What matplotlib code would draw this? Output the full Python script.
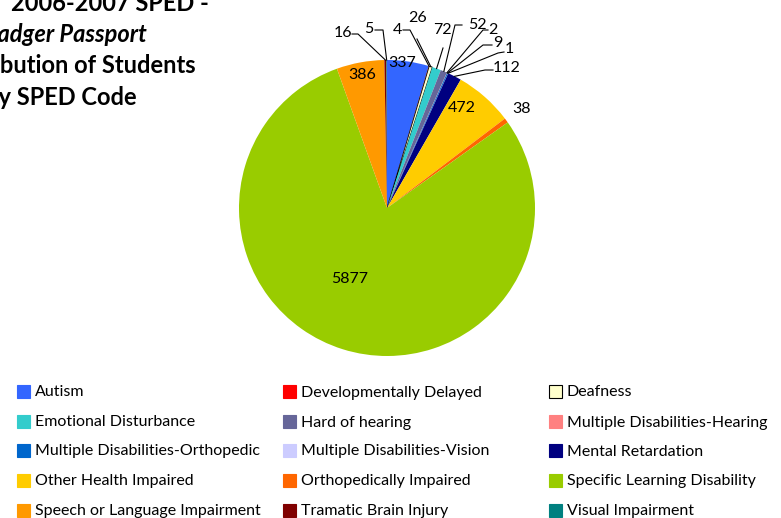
import matplotlib
matplotlib.use("Agg")
import matplotlib.pyplot as plt
from matplotlib.patches import Rectangle
import numpy as np

plt.rcParams['font.family'] = ['Lato', 'DejaVu Sans']

# SPED code counts, in legend order
categories = [
    "Autism", "Developmentally Delayed", "Deafness",
    "Emotional Disturbance", "Hard of hearing", "Multiple Disabilities-Hearing",
    "Multiple Disabilities-Orthopedic", "Multiple Disabilities-Vision", "Mental Retardation",
    "Other Health Impaired", "Orthopedically Impaired", "Specific Learning Disability",
    "Speech or Language Impairment", "Tramatic Brain Injury", "Visual Impairment",
]
counts = [337, 4, 26, 72, 52, 2, 9, 1, 112, 472, 38, 5877, 386, 16, 5]
colors = [
    "#3366FF", "#FF0000", "#FFFFCC",
    "#33CCCC", "#666699", "#FF8080",
    "#0066CC", "#CCCCFF", "#000080",
    "#FFCC00", "#FF6600", "#99CC00",
    "#FF9900", "#800000", "#008080",
]
title_lines = ["2006-2007 SPED -", "Badger Passport", "Distribution of Students", "by SPED Code"]

W, H = 781, 518
fig = plt.figure(figsize=(W / 100, H / 100), dpi=100)


def fx(px):
    return px / W


def fy(py):
    return 1 - py / H


# pie axes: centre (387, 208) px, radius 148 px
cx, cy, r = 387, 208, 148
ax = fig.add_axes([fx(cx - r), fy(cy + r), 2 * r / W, 2 * r / H])
wedges, _ = ax.pie(counts, colors=colors, startangle=90, counterclock=False,
                   radius=1, wedgeprops=dict(linewidth=0))
wedges[2].set_edgecolor("black")
wedges[2].set_linewidth(0.6)
ax.set_xlim(-1, 1)
ax.set_ylim(-1, 1)
ax.axis("off")


def px2d(x, y):
    return (x - cx) / r, (cy - y) / r


# labels that sit inside their slice
inside = {0: (402, 63), 12: (362, 75), 9: (462, 108), 11: (350, 279)}
for i, (x, y) in inside.items():
    tx, ty = px2d(x, y)
    ax.text(tx, ty, str(counts[i]), ha="center", va="center", fontsize=11.5, color="black")

# outside labels: text position, then leader points before the slice edge
outside = {
    14: ((369, 29), [(375, 30), (383, 30)]),
    13: ((343, 33), [(352, 34), (358, 34)]),
    1: ((397, 30), [(403, 30), (410, 30)]),
    2: ((418, 18), [(417, 39)]),
    3: ((442, 30), [(443, 48)]),
    4: ((477, 25), [(462, 25), (455, 25)]),
    5: ((493, 30), [(488, 30), (483, 30)]),
    6: ((498, 43), [(492, 45), (483, 45)]),
    7: ((509, 49), [(504, 52), (498, 53)]),
    8: ((507, 68), [(493, 70), (485, 70)]),
    10: ((522, 109), []),
}
for i, ((x, y), pts) in outside.items():
    tx, ty = px2d(x, y)
    ax.text(tx, ty, str(counts[i]), ha="center", va="center", fontsize=11.5, color="black")
    if pts:
        w = wedges[i]
        mid = np.deg2rad((w.theta1 + w.theta2) / 2)
        xs = [px2d(*p)[0] for p in pts] + [np.cos(mid)]
        ys = [px2d(*p)[1] for p in pts] + [np.sin(mid)]
        ax.plot(xs, ys, color="black", linewidth=0.8, clip_on=False)

# title, right-aligned lines running off the left edge
title_right = [209, 147, 196, 137]
title_base = [11, 42, 73, 105]
for k, line in enumerate(title_lines):
    fig.text(fx(title_right[k]), fy(title_base[k]), line, ha="right", va="baseline",
             fontsize=17, fontweight="bold", style="italic" if k == 1 else "normal")

# legend, filled row by row in three columns
col_x = [17, 283, 549]
row_y = [391, 421, 450, 480, 510]
sq = 13
for i, name in enumerate(categories):
    x = col_x[i % 3]
    y = row_y[i // 3]
    edge = "black" if i == 2 else colors[i]
    fig.patches.append(Rectangle((fx(x), fy(y + sq / 2)), sq / W, sq / H,
                                 facecolor=colors[i], edgecolor=edge, linewidth=0.8,
                                 transform=fig.transFigure, figure=fig))
    fig.text(fx(x + 18), fy(y + 5.5), name, ha="left", va="baseline", fontsize=11.5)

fig.savefig("out.png", dpi=100)
